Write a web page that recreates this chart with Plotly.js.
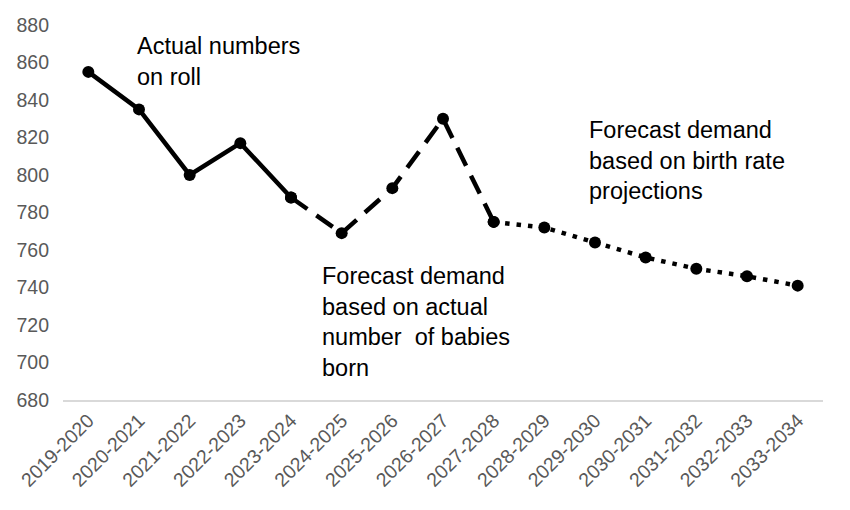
<!DOCTYPE html>
<html>
<head>
<meta charset="utf-8">
<script src="https://cdn.plot.ly/plotly-3.0.1.min.js"></script>
<style>html,body{margin:0;padding:0;background:#fff;}#chart{width:850px;height:510px;}</style>
</head>
<body>
<div id="chart"></div>
<script>
const categories = ["2019-2020","2020-2021","2021-2022","2022-2023","2023-2024","2024-2025","2025-2026","2026-2027","2027-2028","2028-2029","2029-2030","2030-2031","2031-2032","2032-2033","2033-2034"];
const actualCats = categories.slice(0, 5);
const actualValues = [855, 835, 800, 817, 788];
const birthsCats = categories.slice(4, 9);
const birthsValues = [788, 769, 793, 830, 775];
const projCats = categories.slice(8, 15);
const projValues = [775, 772, 764, 756, 750, 746, 741];
const notes = [
  "Actual numbers<br>on roll",
  "Forecast demand<br>based on actual<br>number  of babies<br>born",
  "Forecast demand<br>based on birth rate<br>projections"
];

const font = "Liberation Sans, Arial, sans-serif";
const mk = {color: "#000", size: 12};
const traces = [
  {x: birthsCats, y: birthsValues, type: "scatter", mode: "lines+markers",
   line: {color: "#000", width: 4.5, dash: "20px,11px"}, marker: mk, hoverinfo: "x+y"},
  {x: projCats, y: projValues, type: "scatter", mode: "lines+markers",
   line: {color: "#000", width: 4.5, dash: "4.5px,7px"}, marker: mk, hoverinfo: "x+y"},
  {x: actualCats, y: actualValues, type: "scatter", mode: "lines+markers",
   line: {color: "#000", width: 4.5}, marker: mk, hoverinfo: "x+y"}
];

const annFont = {family: font, size: 23.5, color: "#000"};
const layout = {
  width: 850, height: 510,
  margin: {l: 63, r: 27, t: 25, b: 110},
  paper_bgcolor: "#fff", plot_bgcolor: "#fff",
  showlegend: false,
  font: {family: font},
  xaxis: {
    type: "category", categoryorder: "array", categoryarray: categories,
    range: [-0.5, 14.5],
    showgrid: false, zeroline: false,
    showline: true, linecolor: "#d9d9d9", linewidth: 1.5,
    ticks: "", tickangle: -45,
    tickfont: {family: font, size: 19.5, color: "#595959"}
  },
  yaxis: {
    range: [680, 880], dtick: 20, tick0: 680,
    showgrid: false, zeroline: false, showline: false,
    ticks: "", ticklabelstandoff: 13,
    tickfont: {family: font, size: 19.5, color: "#595959"}
  },
  annotations: [
    {text: notes[0], xref: "paper", yref: "paper", x: 0.095, y: 0.985, xanchor: "left", yanchor: "top", align: "left", showarrow: false, font: annFont},
    {text: notes[1], xref: "paper", yref: "paper", x: 0.338, y: 0.37, xanchor: "left", yanchor: "top", align: "left", showarrow: false, font: annFont},
    {text: notes[2], xref: "paper", yref: "paper", x: 0.69, y: 0.76, xanchor: "left", yanchor: "top", align: "left", showarrow: false, font: annFont}
  ]
};
Plotly.newPlot("chart", traces, layout, {displayModeBar: false, staticPlot: true});
</script>
</body>
</html>
